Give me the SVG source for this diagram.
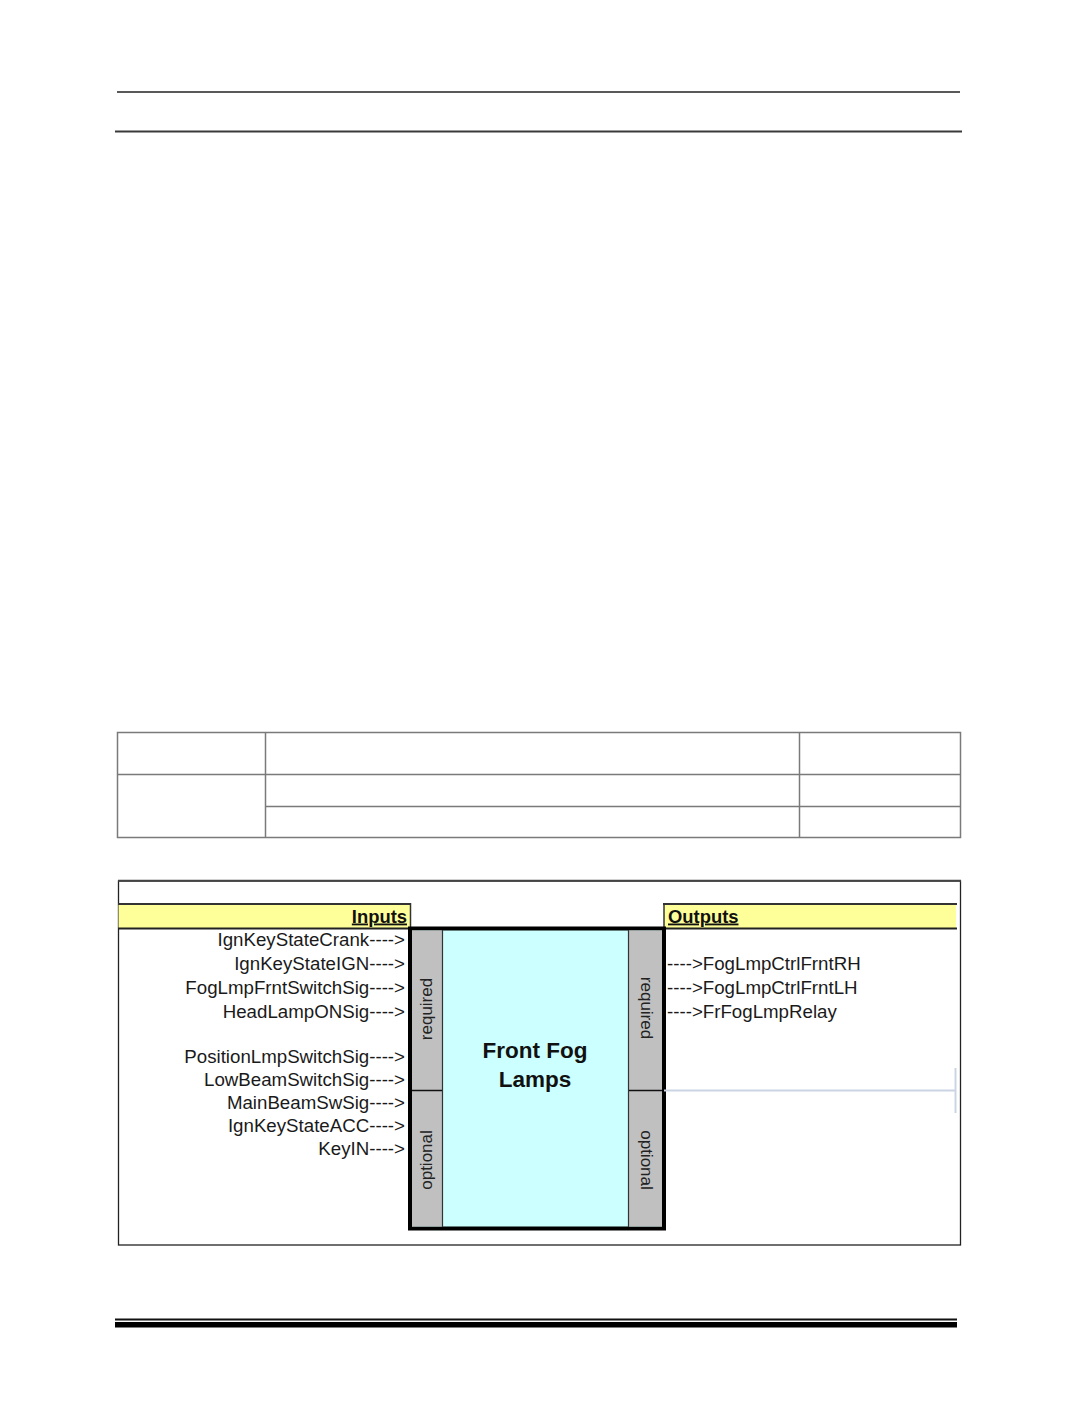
<svg xmlns="http://www.w3.org/2000/svg" width="1075" height="1422" viewBox="0 0 1075 1422">
<style>
.lbl{font-family:"Liberation Sans",Arial,sans-serif;font-size:18.7px;fill:#1a1a1a}
.in{text-anchor:end}
.hdr{font-family:"Liberation Sans",Arial,sans-serif;font-size:18.4px;font-weight:bold;text-decoration:underline;fill:#111}
.strip{font-family:"Liberation Sans",Arial,sans-serif;font-size:17px;fill:#222;text-anchor:middle;dominant-baseline:central}
.title{font-family:"Liberation Sans",Arial,sans-serif;font-size:22.5px;font-weight:bold;fill:#111;text-anchor:middle}
.tbl{stroke:#7a7a7a;stroke-width:1.5;fill:none}
</style>
<rect width="1075" height="1422" fill="#ffffff"/>
<g id="page-rules">
<line x1="117" y1="92" x2="960" y2="92" stroke="#222" stroke-width="1.5"/>
<line x1="115" y1="131.5" x2="962" y2="131.5" stroke="#3a3a3a" stroke-width="2"/>
<line x1="115" y1="1319.5" x2="957" y2="1319.5" stroke="#111" stroke-width="2"/>
<rect x="115" y="1322" width="842" height="5.5" fill="#000"/>
</g>
<g id="table">
<rect class="tbl" x="117.5" y="732.5" width="843" height="105"/>
<line class="tbl" x1="117.5" y1="774.5" x2="960.5" y2="774.5"/>
<line class="tbl" x1="265.5" y1="806.5" x2="960.5" y2="806.5" stroke="#444"/>
<line class="tbl" x1="265.5" y1="732.5" x2="265.5" y2="837.5"/>
<line class="tbl" x1="799.5" y1="732.5" x2="799.5" y2="837.5"/>
</g>
<g id="frame">
<rect x="118.5" y="881" width="842" height="364" fill="none" stroke="#222" stroke-width="1.3"/>
<line x1="118" y1="880.8" x2="961" y2="880.8" stroke="#444" stroke-width="2"/>
</g>
<g id="inputs-header">
<rect x="118.5" y="904" width="292" height="24" fill="#ffff99" stroke="none"/>
<line x1="118" y1="904" x2="411" y2="904" stroke="#333" stroke-width="2"/>
<line x1="118" y1="928.5" x2="411" y2="928.5" stroke="#222" stroke-width="2"/>
<line x1="410.5" y1="903" x2="410.5" y2="929" stroke="#333" stroke-width="1.5"/>
<text class="hdr" x="407" y="922.5" text-anchor="end">Inputs</text>
</g>
<g id="outputs-header">
<rect x="664" y="904" width="292" height="24" fill="#ffff99" stroke="none"/>
<line x1="663" y1="904" x2="957" y2="904" stroke="#333" stroke-width="2"/>
<line x1="663" y1="928.5" x2="957" y2="928.5" stroke="#222" stroke-width="2"/>
<line x1="664" y1="903" x2="664" y2="929" stroke="#333" stroke-width="1.5"/>
<text class="hdr" x="668" y="922.5">Outputs</text>
</g>
<g id="block-front-fog-lamps">
<rect x="410" y="928.5" width="254" height="300" fill="#ccffff" stroke="#000" stroke-width="4"/>
<rect x="412" y="930.5" width="30" height="296" fill="#c0c0c0"/>
<rect x="629" y="930.5" width="33" height="296" fill="#c0c0c0"/>
<line x1="442.5" y1="930" x2="442.5" y2="1227" stroke="#333" stroke-width="1.2"/>
<line x1="628.5" y1="930" x2="628.5" y2="1227" stroke="#333" stroke-width="1.2"/>
<line x1="412" y1="1090.5" x2="442" y2="1090.5" stroke="#111" stroke-width="1.5"/>
<line x1="629" y1="1090.5" x2="662" y2="1090.5" stroke="#111" stroke-width="1.5"/>
<text class="strip" transform="translate(426,1009) rotate(-90)">required</text>
<text class="strip" transform="translate(426,1160) rotate(-90)">optional</text>
<text class="strip" transform="translate(646,1008) rotate(90)">required</text>
<text class="strip" transform="translate(646,1160) rotate(90)">optional</text>
<text class="title" x="535" y="1058">Front Fog</text>
<text class="title" x="535" y="1087">Lamps</text>
</g>
<g id="input-signals">
<text class="lbl in" x="405" y="946">IgnKeyStateCrank----&gt;</text>
<text class="lbl in" x="405" y="970">IgnKeyStateIGN----&gt;</text>
<text class="lbl in" x="405" y="994">FogLmpFrntSwitchSig----&gt;</text>
<text class="lbl in" x="405" y="1018">HeadLampONSig----&gt;</text>
<text class="lbl in" x="405" y="1063">PositionLmpSwitchSig----&gt;</text>
<text class="lbl in" x="405" y="1086">LowBeamSwitchSig----&gt;</text>
<text class="lbl in" x="405" y="1109">MainBeamSwSig----&gt;</text>
<text class="lbl in" x="405" y="1132">IgnKeyStateACC----&gt;</text>
<text class="lbl in" x="405" y="1155">KeyIN----&gt;</text>
</g>
<g id="output-signals">
<text class="lbl" x="667" y="970">----&gt;FogLmpCtrlFrntRH</text>
<text class="lbl" x="667" y="994">----&gt;FogLmpCtrlFrntLH</text>
<text class="lbl" x="667" y="1018">----&gt;FrFogLmpRelay</text>
</g>
<g id="connectors">
<line x1="664" y1="1090.5" x2="955" y2="1090.5" stroke="#ccd4e4" stroke-width="2"/>
<line x1="955.5" y1="1068" x2="955.5" y2="1113" stroke="#ccd4e4" stroke-width="2"/>
</g>
</svg>
